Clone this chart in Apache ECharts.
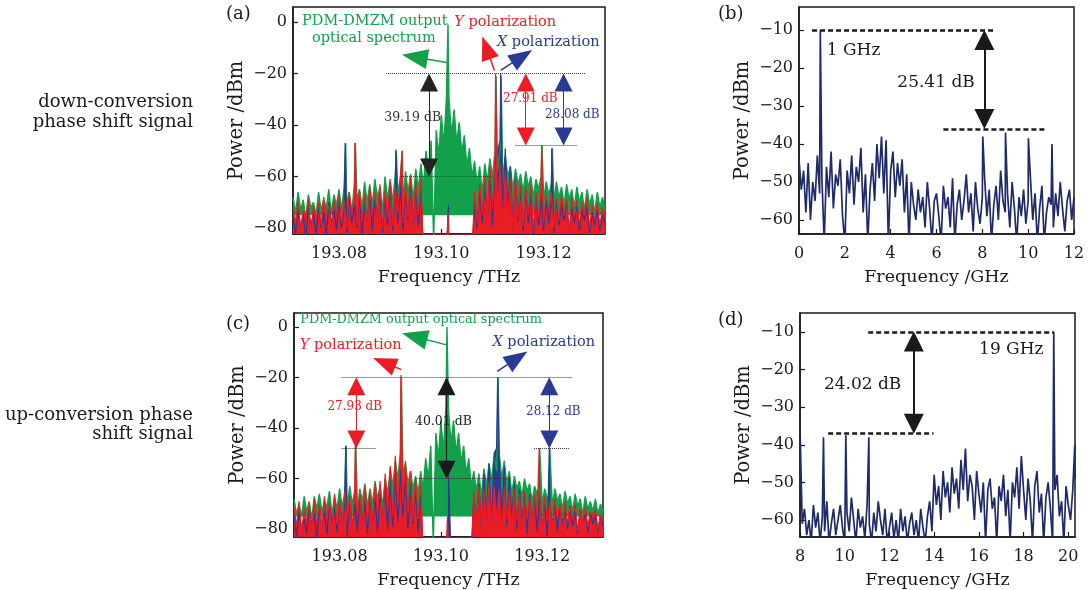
<!DOCTYPE html>
<html>
<head>
<meta charset="utf-8">
<script src="https://cdn.jsdelivr.net/npm/echarts@6/dist/echarts.min.js"></script>
<style>
  html, body { margin: 0; padding: 0; background: #fff; }
  #chart { width: 1089px; height: 590px; }
</style>
</head>
<body>
<div id="chart"></div>
<script>
// optical spectra (a) and (c): one reading every 0.0005 THz starting at 193.071 THz
const optStart = 193.071
const optStep = 0.0005
const optTicks = [193.08, 193.10, 193.12]
const optPowerTicks = [-80, -60, -40, -20, 0]

const greenA = [
  -68, -74, -66, -73, -69, -76, -67, -72, -70, -75,
  -66, -73, -69, -72, -65, -74, -67, -71, -65, -73,
  -64, -71, -66, -74, -63, -69, -65, -72, -62, -70,
  -63, -71, -61, -68, -64, -73, -60, -69, -61, -70,
  -59, -67, -60, -71, -58, -66, -59, -69, -57, -65,
  -55, -64, -50, -58, -46, -85, -42, -52, -36, -48,
  -29, -30, -44, -34, -47, -39, -51, -44, -56, -49,
  -60, -54, -63, -56, -66, -55, -62, -53, -60, -50,
  -58, -49, -61, -52, -60, -56, -65, -57, -63, -59,
  -66, -58, -64, -60, -68, -61, -65, -60, -69, -62,
  -67, -63, -70, -62, -68, -64, -71, -63, -69, -65,
  -72, -64, -70, -66, -73, -65, -71, -67, -74, -66,
  -72, -68, -73
]
const redA = [
  -72, -78, -70, -80, -73, -76, -69, -82, -71, -77,
  -70, -79, -68, -76, -71, -81, -69, -75, -67, -78,
  -69, -80, -66, -75, -68, -79, -65, -77, -67, -82,
  -64, -75, -66, -78, -63, -80, -65, -76, -62, -79,
  -64, -74, -61, -78, -63, -76, -60, -80, -62, -75,
  -61, -90, -90, -90, -90, -90, -90, -90, -90, -90,
  -90, -90, -90, -90, -90, -90, -90, -90, -90, -90,
  -90, -66, -78, -63, -75, -60, -77, -56, -73, -52,
  -74, -55, -78, -58, -75, -61, -80, -60, -76, -63,
  -79, -64, -75, -63, -81, -66, -76, -65, -78, -67,
  -74, -66, -80, -68, -77, -67, -75, -69, -82, -68,
  -76, -69, -79, -70, -74, -68, -80, -71, -77, -70,
  -79, -72, -75
]
const blueA = [
  -76, -82, -73, -80, -75, -84, -72, -79, -74, -83,
  -71, -80, -74, -83, -70, -78, -73, -81, -69, -80,
  -72, -82, -68, -78, -71, -80, -67, -83, -70, -79,
  -66, -81, -69, -77, -65, -82, -68, -79, -64, -81,
  -67, -78, -63, -81, -66, -77, -62, -80, -65, -79,
  -64, -90, -90, -90, -90, -90, -90, -90, -90, -90,
  -90, -90, -90, -90, -90, -90, -90, -90, -90, -90,
  -90, -70, -80, -66, -78, -62, -76, -58, -79, -54,
  -50, -46, -77, -49, -74, -56, -80, -60, -77, -64,
  -81, -65, -78, -66, -83, -67, -79, -68, -81, -69,
  -78, -70, -82, -69, -79, -71, -77, -70, -81, -72,
  -78, -71, -81, -73, -77, -72, -82, -74, -79, -73,
  -81, -75, -78
]
const greenPeaksA = [[193.0813, -47], [193.0832, -47], [193.0912, -50], [193.0924, -50], [193.1013, -1], [193.1107, -21], [193.1117, -21], [193.1197, -48], [193.1217, -49]]
const redPeaksA = [[193.0831, -47], [193.0923, -50], [193.1013, -74], [193.1106, -20], [193.1196, -48]]
const bluePeaksA = [[193.0812, -47], [193.0911, -49.5], [193.1014, -71], [193.1116, -20], [193.1216, -49]]

const greenC = [
  -68, -74, -70, -75, -67, -73, -69, -76, -67, -72,
  -66, -73, -69, -71, -65, -74, -67, -72, -64, -71,
  -66, -72, -63, -70, -65, -73, -64, -69, -62, -71,
  -64, -70, -61, -68, -63, -71, -60, -66, -56, -63,
  -53, -60, -50, -58, -54, -62, -57, -64, -59, -66,
  -57, -64, -52, -60, -47, -86, -42, -52, -37, -49,
  -31, -33, -46, -37, -50, -42, -54, -47, -58, -52,
  -63, -57, -65, -58, -67, -56, -63, -54, -61, -51,
  -57, -50, -60, -53, -62, -57, -66, -59, -64, -61,
  -67, -60, -65, -62, -69, -63, -66, -62, -70, -64,
  -68, -65, -71, -64, -69, -66, -72, -65, -70, -67,
  -73, -66, -71, -68, -74, -67, -72, -69, -73, -68,
  -74, -70, -73
]
const redC = [
  -71, -79, -69, -81, -72, -77, -70, -82, -68, -78,
  -70, -80, -67, -76, -69, -82, -66, -78, -68, -79,
  -65, -77, -67, -81, -64, -75, -66, -80, -63, -77,
  -65, -78, -62, -74, -61, -79, -58, -73, -55, -75,
  -51, -71, -50, -70, -53, -74, -57, -77, -60, -76,
  -62, -90, -90, -90, -90, -90, -90, -90, -90, -90,
  -90, -90, -90, -90, -90, -90, -90, -90, -90, -90,
  -90, -65, -77, -63, -80, -64, -75, -62, -79, -63,
  -76, -64, -81, -63, -76, -65, -80, -64, -77, -66,
  -82, -65, -76, -67, -79, -66, -75, -68, -81, -67,
  -77, -69, -80, -68, -76, -70, -82, -69, -78, -71,
  -76, -70, -81, -72, -77, -71, -79, -73, -75, -72,
  -80, -74, -77
]
const blueC = [
  -75, -83, -73, -80, -76, -82, -72, -78, -74, -84,
  -71, -79, -73, -82, -70, -77, -72, -81, -69, -78,
  -71, -83, -68, -79, -70, -81, -67, -77, -69, -82,
  -66, -78, -68, -81, -65, -76, -63, -80, -61, -79,
  -58, -77, -57, -75, -60, -80, -62, -78, -64, -81,
  -65, -90, -90, -90, -90, -90, -90, -90, -90, -90,
  -90, -90, -90, -90, -90, -90, -90, -90, -90, -90,
  -90, -66, -77, -62, -80, -58, -75, -54, -78, -50,
  -48, -51, -75, -55, -79, -59, -76, -62, -80, -64,
  -78, -65, -82, -66, -77, -68, -81, -67, -79, -69,
  -83, -70, -78, -69, -81, -71, -77, -72, -80, -71,
  -79, -73, -82, -72, -77, -74, -81, -73, -78, -75,
  -81, -74, -79
]
const greenPeaksC = [[193.0813, -47], [193.0832, -46], [193.0922, -20], [193.1012, 0], [193.1113, -20], [193.1195, -48], [193.1215, -48]]
const redPeaksC = [[193.0831, -46], [193.0921, -19], [193.1013, -75], [193.1194, -48]]
const bluePeaksC = [[193.0812, -47], [193.1015, -58], [193.1112, -20], [193.1214, -48]]

// electrical spectra (b) and (d): one reading every 0.1 GHz
const rfStep = 0.1
const rfStartB = 0
const rfTicksB = [0, 2, 4, 6, 8, 10, 12]
const rfB = [
  -44, -52, -47, -58, -45, -60, -50, -55, -43, -53,
  -49, -66, -46, -54, -42, -57, -48, -51, -44, -59,
  -66, -47, -53, -43, -56, -46, -50, -41, -58, -48,
  -66, -52, -45, -55, -40, -49, -38, -53, -39, -66,
  -47, -42, -54, -45, -51, -44, -58, -48, -66, -50,
  -56, -60, -52, -58, -54, -62, -50, -57, -66, -55,
  -53, -59, -66, -51, -57, -54, -62, -49, -66, -56,
  -52, -60, -55, -48, -58, -53, -63, -50, -57, -61,
  -54, -49, -59, -52, -66, -56, -51, -60, -47, -55,
  -58, -53, -62, -50, -57, -66, -54, -59, -52, -61,
  -55, -49, -60, -53, -66, -57, -51, -66, -58, -54,
  -56, -62, -53, -59, -50, -57, -63, -55, -52, -60,
  -54
]
const rfPeaksB = [[0.93, -10], [8.02, -38], [9.01, -37], [10.01, -38.5], [11.04, -40]]

const rfStartD = 8
const rfTicksD = [8, 10, 12, 14, 16, 18, 20]
const rfD = [
  -55, -61, -57, -64, -60, -66, -56, -62, -58, -66,
  -59, -63, -55, -66, -61, -57, -64, -60, -56, -62,
  -66, -58, -63, -54, -60, -66, -57, -62, -59, -65,
  -56, -61, -66, -58, -63, -55, -60, -64, -57, -66,
  -62, -58, -65, -60, -66, -57, -63, -59, -66, -61,
  -58, -64, -60, -66, -57, -62, -66, -59, -55, -63,
  -48, -56, -51, -60, -47, -54, -50, -58, -46, -53,
  -49, -57, -44, -52, -41, -55, -48, -51, -60, -47,
  -53, -58, -50, -66, -52, -49, -57, -54, -66, -51,
  -55, -48, -59, -52, -66, -50, -54, -46, -57, -43,
  -52, -60, -49, -55, -66, -51, -47, -58, -53, -66,
  -54, -50, -57, -66, -52, -48, -59, -55, -66, -51,
  -56, -60, -52, -49
]
const rfPeaksD = [[8.01, -38], [9.05, -38], [10.05, -37.5], [11.08, -38], [19.35, -10], [20.29, -40]]
const rfPowerTicks = [-60, -50, -40, -30, -20, -10]

const FONT = '"DejaVu Serif", serif'
const INK = '#1a1a1a'
const GREEN = '#12a04a'
const RED = '#ec1c24'
const BLUE = '#2b3a94'
const NAVY = '#1f2a6b'

// grid samples plus the narrow peaks, in frequency order
function spectrum (start, step, values, peaks) {
  const pts = values.map((v, i) => [+(start + i * step).toFixed(5), v])
  return pts.concat(peaks).sort((a, b) => a[0] - b[0])
}

function xAxisOf (g, min, max, ticks, name, digits) {
  return {
    gridIndex: g,
    type: 'value',
    min: min,
    max: max,
    name: name,
    nameLocation: 'middle',
    nameGap: 34,
    nameTextStyle: { fontFamily: FONT, fontSize: 17.5, color: INK },
    axisLine: { onZero: false, lineStyle: { color: INK, width: 1.5 } },
    axisTick: { inside: true, length: 5, customValues: ticks, lineStyle: { color: INK, width: 1.2 } },
    axisLabel: {
      customValues: ticks,
      margin: 12,
      fontFamily: FONT,
      fontSize: 16,
      color: INK,
      formatter: v => v.toFixed(digits)
    },
    splitLine: { show: false }
  }
}

function yAxisOf (g, min, max, ticks) {
  return {
    gridIndex: g,
    type: 'value',
    min: min,
    max: max,
    name: 'Power /dBm',
    nameLocation: 'middle',
    nameGap: 46,
    nameRotate: 90,
    nameTextStyle: { fontFamily: FONT, fontSize: 19.5, color: INK },
    axisLine: { onZero: false, lineStyle: { color: INK, width: 1.5 } },
    axisTick: { inside: true, length: 5, customValues: ticks, lineStyle: { color: INK, width: 1.2 } },
    axisLabel: {
      customValues: ticks,
      margin: 6,
      fontFamily: FONT,
      fontSize: 16,
      color: INK,
      formatter: v => String(v).replace('-', '\u2212')
    },
    splitLine: { show: false }
  }
}

// origin: where the dense trace is filled to (the noise reads as a solid band)
function trace (g, data, color, width, origin, extra) {
  const s = {
    type: 'line',
    xAxisIndex: g,
    yAxisIndex: g,
    data: data,
    showSymbol: false,
    symbol: 'none',
    silent: true,
    clip: true,
    lineStyle: { color: color, width: width },
    itemStyle: { color: color }
  }
  if (origin != null) s.areaStyle = { color: color, opacity: 1, origin: origin }
  return Object.assign(s, extra || {})
}

// annotation helpers (data coordinates)
function seg (a, b, color, width, type) {
  const ls = { color: color, width: width, type: type }
  return [{ coord: a, symbol: 'none', lineStyle: ls }, { coord: b, symbol: 'none', lineStyle: ls }]
}
function arrow (a, b, color, width, head, twoWay) {
  const ls = { color: color, width: width, type: 'solid' }
  return [
    { coord: a, symbol: twoWay ? 'triangle' : 'none', symbolSize: head, lineStyle: ls },
    { coord: b, symbol: 'triangle', symbolSize: head, lineStyle: ls }
  ]
}
function note (at, text, color, size, italic) {
  return {
    coord: at,
    symbol: 'rect',
    symbolSize: 1,
    itemStyle: { color: 'rgba(0,0,0,0)' },
    label: {
      show: true,
      position: 'inside',
      formatter: text,
      color: color,
      fontSize: size,
      fontFamily: FONT,
      rich: italic ? { i: { fontStyle: 'italic', color: color, fontSize: size, fontFamily: FONT } } : undefined
    }
  }
}
function markers (lines, notes) {
  return {
    markLine: { silent: true, animation: false, symbol: ['none', 'none'], label: { show: false }, emphasis: { disabled: true }, data: lines },
    markPoint: { silent: true, animation: false, data: notes }
  }
}

const markA = markers([
  seg([193.0892, -20], [193.1282, -20], '#333', 1, 'dotted'),
  seg([193.0921, -60], [193.1099, -60], '#333', 1, 'dotted'),
  seg([193.1145, -48], [193.1266, -48], '#333', 1, 'dotted'),
  arrow([193.0976, -23.5], [193.0976, -56.5], '#222', 1, [18, 18], true),
  arrow([193.1165, -23.5], [193.1165, -44.5], RED, 1, [18, 18], true),
  arrow([193.1239, -23.5], [193.1239, -44.5], BLUE, 1, [18, 18], true),
  arrow([193.1013, -15.8], [193.0948, -13.6], GREEN, 1.5, [20, 26], false),
  arrow([193.1104, -18.8], [193.1088, -10.0], RED, 1.5, [18, 24], false),
  arrow([193.1116, -18.8], [193.1158, -13.4], BLUE, 1.5, [18, 24], false)
], [
  note([193.0870, 0.2], 'PDM-DMZM output', GREEN, 14.5),
  note([193.0868, -6.2], 'optical spectrum', GREEN, 14.5),
  note([193.1125, 0.0], '{i|Y} polarization', RED, 14.5, true),
  note([193.1209, -7.7], '{i|X} polarization', BLUE, 14.5, true),
  note([193.0944, -37], '39.19 dB', '#333', 12.5),
  note([193.1174, -30], '27.91 dB', RED, 12),
  note([193.1256, -36], '28.08 dB', BLUE, 12)
])

const markC = markers([
  seg([193.0804, -20], [193.1259, -20], '#333', 1, 'dotted'),
  seg([193.0804, -48], [193.0872, -48], '#333', 1, 'dotted'),
  seg([193.1184, -48], [193.1253, -48], '#333', 1, 'dotted'),
  seg([193.0950, -60], [193.1136, -60], '#333', 1, 'dotted'),
  arrow([193.0833, -23.5], [193.0833, -44.5], RED, 1, [18, 18], true),
  arrow([193.1011, -23.5], [193.1011, -56.5], INK, 1.2, [18, 18], true),
  arrow([193.1214, -23.5], [193.1214, -44.5], BLUE, 1, [18, 18], true),
  arrow([193.1011, -7.1], [193.0948, -3.8], GREEN, 1.5, [20, 26], false),
  arrow([193.0922, -16.9], [193.0888, -14.1], RED, 1.5, [18, 24], false),
  arrow([193.1111, -17.6], [193.1151, -12.3], BLUE, 1.5, [18, 24], false)
], [
  note([193.0961, 2.8], 'PDM-DMZM output optical spectrum', GREEN, 12.8),
  note([193.0822, -7.1], '{i|Y} polarization', RED, 14.5, true),
  note([193.1203, -5.9], '{i|X} polarization', BLUE, 14.5, true),
  note([193.0830, -31.5], '27.93 dB', RED, 12),
  note([193.1005, -37.4], '40.01 dB', INK, 12.5),
  note([193.1222, -33.5], '28.12 dB', BLUE, 12)
])

const markB = markers([
  seg([0.57, -10], [8.6, -10], INK, 2.5, [5, 3]),
  seg([6.3, -36], [10.8, -36], INK, 2.5, [5, 3]),
  arrow([8.09, -12.6], [8.09, -33.4], INK, 2, [20, 20], true)
], [
  note([2.38, -15.3], '1 GHz', INK, 17),
  note([5.98, -23.7], '25.41 dB', INK, 17)
])

const markD = markers([
  seg([11.05, -10], [19.36, -10], INK, 2.5, [5, 3]),
  seg([9.26, -37], [13.97, -37], INK, 2.5, [5, 3]),
  arrow([13.09, -12.6], [13.09, -34.4], INK, 2, [20, 20], true)
], [
  note([10.8, -24], '24.02 dB', INK, 17),
  note([17.45, -14.7], '19 GHz', INK, 17)
])

const chart = echarts.init(document.getElementById('chart'))
const gridBox = { show: true, borderColor: INK, borderWidth: 1.5, backgroundColor: 'transparent' }
const textStyle = (size) => ({ font: size + 'px ' + FONT, fill: INK })

chart.setOption({
  animation: false,
  grid: [
    Object.assign({ left: 293, top: 7, width: 312, height: 227 }, gridBox),
    Object.assign({ left: 799, top: 7, width: 275, height: 227 }, gridBox),
    Object.assign({ left: 294, top: 313, width: 309, height: 225 }, gridBox),
    Object.assign({ left: 800, top: 313, width: 275, height: 226 }, gridBox)
  ],
  xAxis: [
    xAxisOf(0, 193.071, 193.132, optTicks, 'Frequency /THz', 2),
    xAxisOf(1, 0, 12, rfTicksB, 'Frequency /GHz', 0),
    xAxisOf(2, 193.071, 193.132, optTicks, 'Frequency /THz', 2),
    xAxisOf(3, 8, 20.3, rfTicksD, 'Frequency /GHz', 0)
  ],
  yAxis: [
    yAxisOf(0, -82.3, 5.8, optPowerTicks),
    yAxisOf(1, -63.7, -3.9, rfPowerTicks),
    yAxisOf(2, -83.1, 5.5, optPowerTicks),
    yAxisOf(3, -64.5, -5, rfPowerTicks)
  ],
  series: [
    trace(0, spectrum(optStart, optStep, greenA, greenPeaksA), GREEN, 1.4, -75),
    trace(0, spectrum(optStart, optStep, blueA, bluePeaksA), BLUE, 1.2, 'start'),
    trace(0, spectrum(optStart, optStep, redA, redPeaksA), RED, 1.2, 'start', markA),
    trace(1, spectrum(rfStartB, rfStep, rfB, rfPeaksB), NAVY, 1.7, null, markB),
    trace(2, spectrum(optStart, optStep, greenC, greenPeaksC), GREEN, 1.4, -75),
    trace(2, spectrum(optStart, optStep, blueC, bluePeaksC), BLUE, 1.2, 'start'),
    trace(2, spectrum(optStart, optStep, redC, redPeaksC), RED, 1.2, 'start', markC),
    trace(3, spectrum(rfStartD, rfStep, rfD, rfPeaksD), NAVY, 1.7, null, markD)
  ],
  graphic: [
    { type: 'text', x: 226, y: 5, style: Object.assign({ text: '(a)' }, textStyle(18)) },
    { type: 'text', x: 718, y: 5, style: Object.assign({ text: '(b)' }, textStyle(18)) },
    { type: 'text', x: 226, y: 315, style: Object.assign({ text: '(c)' }, textStyle(18)) },
    { type: 'text', x: 718, y: 311, style: Object.assign({ text: '(d)' }, textStyle(18)) },
    { type: 'text', x: 193, y: 112, style: Object.assign({ text: 'down-conversion\nphase shift signal', align: 'right', verticalAlign: 'middle', lineHeight: 20 }, textStyle(18)) },
    { type: 'text', x: 193, y: 425, style: Object.assign({ text: 'up-conversion phase\nshift signal', align: 'right', verticalAlign: 'middle', lineHeight: 19 }, textStyle(18)) }
  ]
})
</script>
</body>
</html>
